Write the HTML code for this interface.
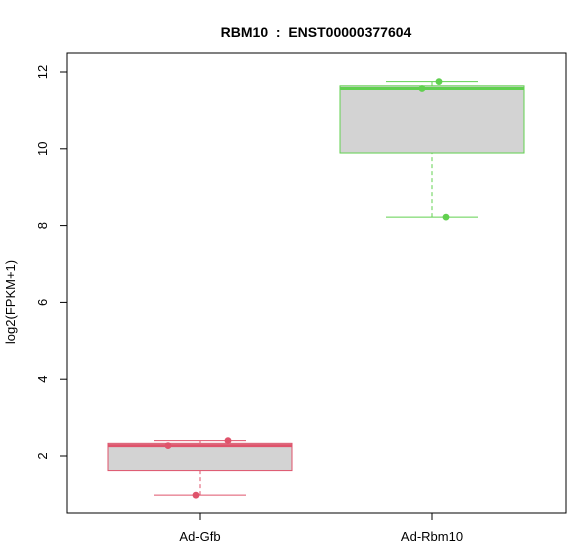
<!DOCTYPE html>
<html><head><meta charset="utf-8"><style>body{margin:0;background:#fff}svg{display:block;font-family:"Liberation Sans",Arial,sans-serif}</style></head>
<body>
<svg id="chart" width="570" height="559" viewBox="0 0 570 559">
<text x="316" y="37" text-anchor="middle" font-size="14" font-weight="bold" style="white-space:pre" xml:space="preserve">RBM10  :  ENST00000377604</text>
<rect x="67" y="53" width="499" height="460" fill="none" stroke="#000" stroke-width="1"/>
<text transform="translate(15,302) rotate(-90)" text-anchor="middle" font-size="13">log2(FPKM+1)</text>
<g id="axes"></g><g id="marks"></g>
</svg>
<script>
const categories=["Ad-Gfb","Ad-Rbm10"];
const colors=["#DF536B","#61D04F"];
const q1=[1.62,9.89];
const medians=[2.27,11.57];
const q3=[2.33,11.64];
const whiskLo=[0.98,8.22];
const whiskHi=[2.40,11.75];
const pointsA=[2.27,2.40,0.98];
const pointsB=[11.57,11.75,8.22];
const jitter=[[-32,28,-4],[-10,7,14]];
const yTicks=[2,4,6,8,10,12];
const NS="http://www.w3.org/2000/svg";
const y=v=>456-(v-2)*38.4;
const x=i=>200+i*232;
function mk(t,a,p){const e=document.createElementNS(NS,t);for(const k in a)e.setAttribute(k,a[k]);p.appendChild(e);return e;}
const ax=document.getElementById('axes'),mg=document.getElementById('marks');
let l=mk('line',{x1:67,x2:67,y1:y(2),y2:y(12),stroke:'#000'},ax);


yTicks.forEach(v=>{
 const t=mk('line',{x1:60,x2:67,y1:y(v),y2:y(v),stroke:'#000'},ax);
 
 
 const tx=mk('text',{transform:`translate(47,${y(v)}) rotate(-90)`,'text-anchor':'middle','font-size':'13'},ax);
 tx.textContent=v;
 
 
});
const xl=mk('line',{x1:x(0),x2:x(1),y1:513,y2:513,stroke:'#000'},ax);


const pts=[pointsA,pointsB];
categories.forEach((c,i)=>{
 const cx=x(i),col=colors[i];
 const t=mk('line',{x1:cx,x2:cx,y1:513,y2:520,stroke:'#000'},ax);
 
 
 const tx=mk('text',{x:cx,y:541,'text-anchor':'middle','font-size':'13'},ax);
 tx.textContent=c;
 
 
 const g=mk('g',{},mg);
 
 
 mk('line',{x1:cx,x2:cx,y1:y(whiskLo[i]),y2:y(q1[i]),stroke:col,'stroke-dasharray':'4,3'},g);
 mk('line',{x1:cx,x2:cx,y1:y(q3[i]),y2:y(whiskHi[i]),stroke:col,'stroke-dasharray':'4,3'},g);
 mk('line',{x1:cx-46,x2:cx+46,y1:y(whiskLo[i]),y2:y(whiskLo[i]),stroke:col},g);
 mk('line',{x1:cx-46,x2:cx+46,y1:y(whiskHi[i]),y2:y(whiskHi[i]),stroke:col},g);
 mk('rect',{x:cx-92,y:y(q3[i]),width:184,height:y(q1[i])-y(q3[i]),fill:'#D3D3D3',stroke:col},g);
 mk('line',{x1:cx-92,x2:cx+92,y1:y(medians[i]),y2:y(medians[i]),stroke:col,'stroke-width':3},g);
 pts[i].forEach((v,j)=>{
  const p=mk('circle',{cx:cx+jitter[i][j],cy:y(v),r:3.4,fill:col},g);
  
  
 });
});
</script>
</body></html>
